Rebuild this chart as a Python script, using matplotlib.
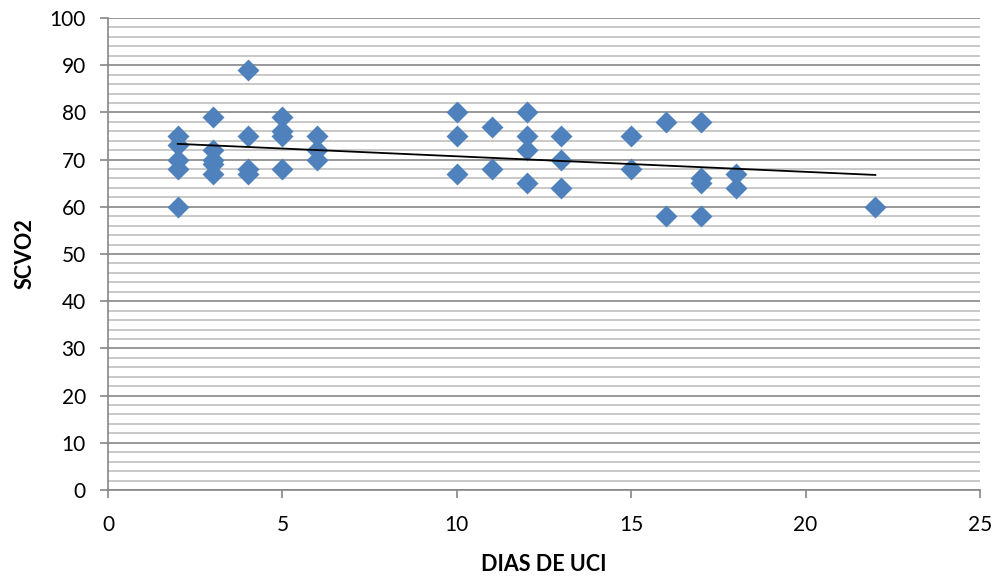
import numpy as np
import matplotlib
matplotlib.use("Agg")
import matplotlib.pyplot as plt
from matplotlib.ticker import MultipleLocator

# datos: dias de UCI vs SCVO2
dias = [2, 2, 2, 2, 2,
        3, 3, 3, 3, 3,
        4, 4, 4, 4,
        5, 5, 5, 5,
        6, 6, 6,
        10, 10, 10,
        11, 11,
        12, 12, 12, 12,
        13, 13, 13,
        15, 15,
        16, 16,
        17, 17, 17, 17,
        18, 18,
        22]
scvo2 = [75, 73, 70, 68, 60,
         79, 72, 70, 69, 67,
         89, 75, 68, 67,
         79, 76, 75, 68,
         75, 72, 70,
         80, 75, 67,
         77, 68,
         80, 75, 72, 65,
         75, 70, 64,
         75, 68,
         78, 58,
         78, 66, 65, 58,
         67, 64,
         60]

x_ticks = [0, 5, 10, 15, 20, 25]
y_ticks = [0, 10, 20, 30, 40, 50, 60, 70, 80, 90, 100]

plt.rcParams['font.family'] = ['Lato', 'DejaVu Sans']

fig = plt.figure(figsize=(9.98, 5.77), dpi=100)
ax = fig.add_axes([108 / 998, 87 / 577, 872 / 998, 472 / 577])

ax.set_xlim(0, 25)
ax.set_ylim(0, 100)
ax.set_xticks(x_ticks)
ax.set_yticks(y_ticks)
ax.yaxis.set_minor_locator(MultipleLocator(2))

ax.grid(axis='y', which='major', color='#868686', linewidth=1.2, zorder=0)
ax.grid(axis='y', which='minor', color='#bfbfbf', linewidth=1.2, zorder=0)
ax.set_axisbelow(True)

for s in ['top', 'right']:
    ax.spines[s].set_visible(False)
for s in ['left', 'bottom']:
    ax.spines[s].set_color('#868686')
    ax.spines[s].set_linewidth(1.2)

ax.tick_params(axis='both', which='major', length=6, width=1.2, color='#868686',
               labelsize=15)
ax.tick_params(axis='x', which='major', pad=12)
ax.tick_params(axis='y', which='major', pad=10)
ax.tick_params(axis='y', which='minor', length=0)

ax.scatter(dias, scvo2, marker='D', s=125, color='#4f81bd', zorder=3,
           linewidths=0)

# linea de tendencia lineal
m, b = np.polyfit(dias, scvo2, 1)
xs = np.array([min(dias), max(dias)])
ax.plot(xs, m * xs + b, color='black', linewidth=1.3, zorder=4)

ax.set_xlabel('DIAS DE UCI', fontsize=15.5, fontweight='bold', labelpad=14)
ax.set_ylabel('SCVO2', fontsize=15.5, fontweight='bold', labelpad=10)

fig.savefig('out.png', dpi=100)
